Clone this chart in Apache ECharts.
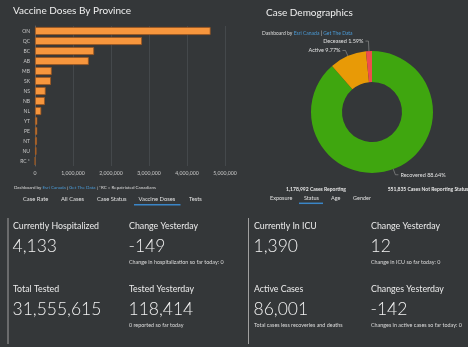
<!DOCTYPE html>
<html><head><meta charset="utf-8">
<style>html,body{margin:0;padding:0;background:#343739;}#c{width:468px;height:347px;}</style>
<script src="https://cdn.jsdelivr.net/npm/echarts@6/dist/echarts.min.js"></script>
</head><body><div id="c"></div>
<script>
const provinces = ['ON','QC','BC','AB','MB','SK','NS','NB','NL','YT','PE','NT','NU','RC *'];
const doses = [4620000,2815000,1555000,1415000,440000,420000,280000,260000,165000,60000,58000,52000,40000,0];
const xTicks = [0,1000000,2000000,3000000,4000000,5000000];
const statusNames = ['Recovered','Active','Deceased'];
const statusPct = [88.64,9.77,1.59];
const leftTabs = ['Case Rate','All Cases','Case Status','Vaccine Doses','Tests'];
const rightTabs = ['Exposure','Status','Age','Gender'];
const statLabels = ['Currently Hospitalized','Change Yesterday','Total Tested','Tested Yesterday','Currently In ICU','Change Yesterday','Active Cases','Changes Yesterday'];
const statValues = ['4,133','-149','31,555,615','118,414','1,390','12','86,001','-142'];
const statNotes = ['','Change in hospitalization so far today: 0','','0 reported so far today','','Change in ICU so far today: 0','Total cases less recoveries and deaths','Changes in active cases so far today: 0'];

const FONT = 'Lato, "Open Sans", sans-serif';
const chart = echarts.init(document.getElementById('c'), null, {renderer:'canvas'});
const fmt = v => v.toLocaleString('en-US');

const g = [];
function txt(x,y,text,size,opts){
  opts = opts||{};
  g.push({type:'text', x:x, y:y, silent:true, style:Object.assign({text:text, fill:opts.fill||'#e6e6e6', font:(opts.weight||'normal')+' '+size+'px '+FONT, textVerticalAlign:'middle', textAlign:opts.align||'left'}, opts.rich?{rich:opts.rich}:{})});
}
function line(x1,y1,x2,y2,color,w){
  g.push({type:'line', silent:true, shape:{x1:x1,y1:y1,x2:x2,y2:y2}, style:{stroke:color, lineWidth:w||1}});
}
// titles
txt(13,11,'Vaccine Doses By Province',10,{fill:'#f0f0f0'});
txt(266,12.5,'Case Demographics',10,{fill:'#f0f0f0'});
// footers
txt(14,187.5,'Dashboard by {b|Esri Canada} | {b|Get The Data} | *RC = Repatriated Canadians',4.5,{fill:'#dcdcdc', rich:{b:{fill:'#4a9ad6', font:'normal 4.5px '+FONT}}});
txt(262,33,'Dashboard by {b|Esri Canada} | {b|Get The Data}',5,{fill:'#dcdcdc', rich:{b:{fill:'#4a9ad6', font:'normal 5px '+FONT}}});
txt(316,189,'1,178,992 Cases Reporting',5,{weight:'bold', align:'center'});
txt(428,189,'551,835 Cases Not Reporting Status',5,{weight:'bold', align:'center'});
// tabs
const ltx = [23,61,97,138.5,189];
leftTabs.forEach((t,i)=>txt(ltx[i],199,t,5.8,{fill:'#e0e0e0'}));
line(134,204.7,180.5,204.7,'#3a86c8',1.5);
const rtx = [270,304,331,353];
rightTabs.forEach((t,i)=>txt(rtx[i],198,t,5.5,{fill:'#e0e0e0'}));
line(299,203.3,323,203.3,'#3a86c8',1.5);
// bottom panels
line(8,218,8,344,'#a0a0a0',1);
line(248.5,218,248.5,344,'#a0a0a0',1);
const colX = [13,129,13,129,254,371,254,371];
const rowY = [0,0,1,1,0,0,1,1];
for(let i=0;i<8;i++){
  const base = rowY[i]? 289 : 226;
  txt(colX[i],base,statLabels[i],8.8,{fill:'#ececec'});
  txt(colX[i]-0.5,base+20,statValues[i],17.5,{fill:'#f2f2f2',weight:'300'});
  if(statNotes[i]) txt(colX[i],base+36,statNotes[i],5.4,{fill:'#dcdcdc'});
}

chart.setOption({
  backgroundColor:'#343739',
  animation:false,
  textStyle:{fontFamily:FONT},
  grid:{left:35,right:243,top:26,bottom:181,containLabel:false},
  xAxis:{type:'value', min:xTicks[0], max:xTicks[xTicks.length-1], interval:xTicks[1]-xTicks[0],
    axisLabel:{color:'#c8c8c8', fontSize:5.2, margin:5, formatter:v=>fmt(v)},
    axisLine:{show:false}, axisTick:{show:false},
    splitLine:{show:true, lineStyle:{color:'#44484b', width:1}}},
  yAxis:{type:'category', data:provinces, inverse:true,
    axisLabel:{color:'#c8c8c8', fontSize:5, margin:5},
    axisLine:{show:true, lineStyle:{color:'#5a5e61'}}, axisTick:{show:false}},
  series:[
    {type:'bar', data:doses, barCategoryGap:'20%',
     itemStyle:{color:'#f7963d', borderColor:'#9a5520', borderWidth:0.8}},
    {type:'pie', center:[372,112], radius:[30,61], startAngle:90, clockwise:true,
     avoidLabelOverlap:false,
     data:statusNames.map((n,i)=>({name:n, value:statusPct[i],
       labelLine:{length:[6,6,10][i], length2:[3,3,3][i]}})),
     color:['#3fa60f','#e89a06','#ee4d4d'],
     itemStyle:{borderWidth:0},
     label:{show:true, color:'#e0e0e0', fontSize:5.5, formatter:'{b} {d}%', distanceToLabelLine:2},
     labelLine:{show:true, lineStyle:{color:'#9a9a9a', width:0.6}}}
  ],
  graphic:g
});
</script></body></html>
